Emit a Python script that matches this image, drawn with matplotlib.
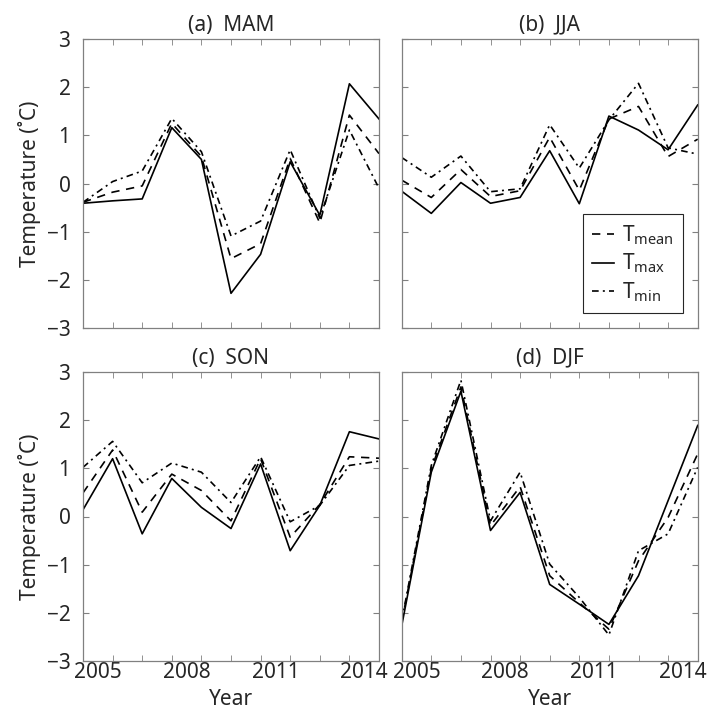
import matplotlib
matplotlib.use("Agg")
import matplotlib.pyplot as plt
from matplotlib.ticker import FixedLocator

plt.rcParams['font.family'] = ['Noto Sans', 'DejaVu Sans']
plt.rcParams['mathtext.fontset'] = 'custom'
plt.rcParams['mathtext.rm'] = 'Noto Sans'

years = [2004, 2005, 2006, 2007, 2008, 2009, 2010, 2011, 2012, 2013, 2014]
tick_pos = [2004.5, 2007.5, 2010.5, 2013.5]
tick_labels = ['2005', '2008', '2011', '2014']

titles = ['(a)  MAM', '(b)  JJA', '(c)  SON', '(d)  DJF']

mam_mean = [-0.39, -0.18, -0.05, 1.25, 0.56, -1.56, -1.25, 0.52, -0.82, 1.42, 0.62]
mam_max = [-0.41, -0.36, -0.32, 1.16, 0.50, -2.28, -1.47, 0.45, -0.66, 2.07, 1.34]
mam_min = [-0.39, 0.04, 0.26, 1.35, 0.66, -1.09, -0.78, 0.70, -0.72, 1.11, -0.10]

jja_mean = [0.07, -0.29, 0.29, -0.27, -0.15, 0.96, -0.14, 1.34, 1.60, 0.56, 0.92]
jja_max = [-0.16, -0.62, 0.02, -0.41, -0.29, 0.68, -0.42, 1.40, 1.11, 0.70, 1.63]
jja_min = [0.54, 0.13, 0.57, -0.17, -0.11, 1.22, 0.32, 1.32, 2.08, 0.74, 0.61]

son_mean = [0.49, 1.38, 0.09, 0.88, 0.54, -0.09, 1.20, -0.43, 0.25, 1.24, 1.21]
son_max = [0.14, 1.20, -0.36, 0.79, 0.19, -0.25, 1.09, -0.71, 0.23, 1.76, 1.61]
son_min = [1.02, 1.56, 0.70, 1.11, 0.92, 0.29, 1.24, -0.11, 0.23, 1.06, 1.15]

djf_mean = [-2.20, 0.99, 2.69, -0.19, 0.62, -1.23, -1.79, -2.34, -0.92, -0.02, 1.30]
djf_max = [-2.27, 0.92, 2.60, -0.29, 0.50, -1.41, -1.82, -2.24, -1.23, 0.33, 1.89]
djf_min = [-2.17, 1.06, 2.83, -0.09, 0.92, -0.99, -1.68, -2.46, -0.71, -0.36, 1.02]

series = [(mam_mean, mam_max, mam_min), (jja_mean, jja_max, jja_min),
          (son_mean, son_max, son_min), (djf_mean, djf_max, djf_min)]

W, H = 708, 711
fig = plt.figure(figsize=(W / 100, H / 100), dpi=100)

lefts = [83, 401.7]
tops = [39, 372]
aw, ah = 296, 289

text_c = '#262626'
spine_c = '#808080'
fs = 15

for k in range(4):
    r, c = divmod(k, 2)
    x0 = lefts[c] / W
    y0 = 1 - (tops[r] + ah) / H
    ax = fig.add_axes([x0, y0, aw / W, ah / H])
    m, mx, mn = series[k]
    l1, = ax.plot(years, m, color='black', lw=1.2, ls=(0, (5, 4)), label=r'T$_{\mathregular{mean}}$')
    l2, = ax.plot(years, mx, color='black', lw=1.2, ls='-', label=r'T$_{\mathregular{max}}$')
    l3, = ax.plot(years, mn, color='black', lw=1.2, ls=(0, (4, 2.5, 1.2, 2.5)), label=r'T$_{\mathregular{min}}$')
    ax.set_xlim(2004, 2014)
    ax.set_ylim(-3, 3)
    ax.set_yticks([-3, -2, -1, 0, 1, 2, 3])
    ax.xaxis.set_major_locator(FixedLocator(tick_pos))
    ax.xaxis.set_minor_locator(FixedLocator(years))
    ax.tick_params(axis='x', which='major', length=0, pad=1)
    ax.tick_params(axis='x', which='minor', direction='in', length=4, top=True, bottom=True, color=spine_c)
    ax.tick_params(axis='y', direction='in', length=4, left=True, right=True, color=spine_c, pad=9)
    ax.tick_params(labelsize=fs, labelcolor=text_c)
    for s in ax.spines.values():
        s.set_color(spine_c)
        s.set_linewidth(0.9)
    if r == 1:
        ax.set_xticklabels(tick_labels)
        ax.set_xlabel('Year', fontsize=fs, color=text_c, labelpad=4)
    else:
        ax.set_xticklabels([])
    if c == 1:
        ax.set_yticklabels([])
    else:
        ax.set_ylabel('Temperature (˚C)', fontsize=fs, color=text_c, labelpad=4)
    ax.set_title(titles[k], fontsize=fs, color=text_c, pad=6)
    if k == 1:
        leg = ax.legend(handles=[l1, l2, l3], loc='lower right', bbox_to_anchor=(0.949, 0.052),
                        borderaxespad=0, fontsize=fs, handlelength=1.05, handletextpad=0.35,
                        labelspacing=0.22, fancybox=False, framealpha=1, edgecolor=text_c,
                        borderpad=0.45)
        leg.get_frame().set_linewidth(0.8)
        for t in leg.get_texts():
            t.set_color(text_c)

fig.savefig('out.png', dpi=100)
